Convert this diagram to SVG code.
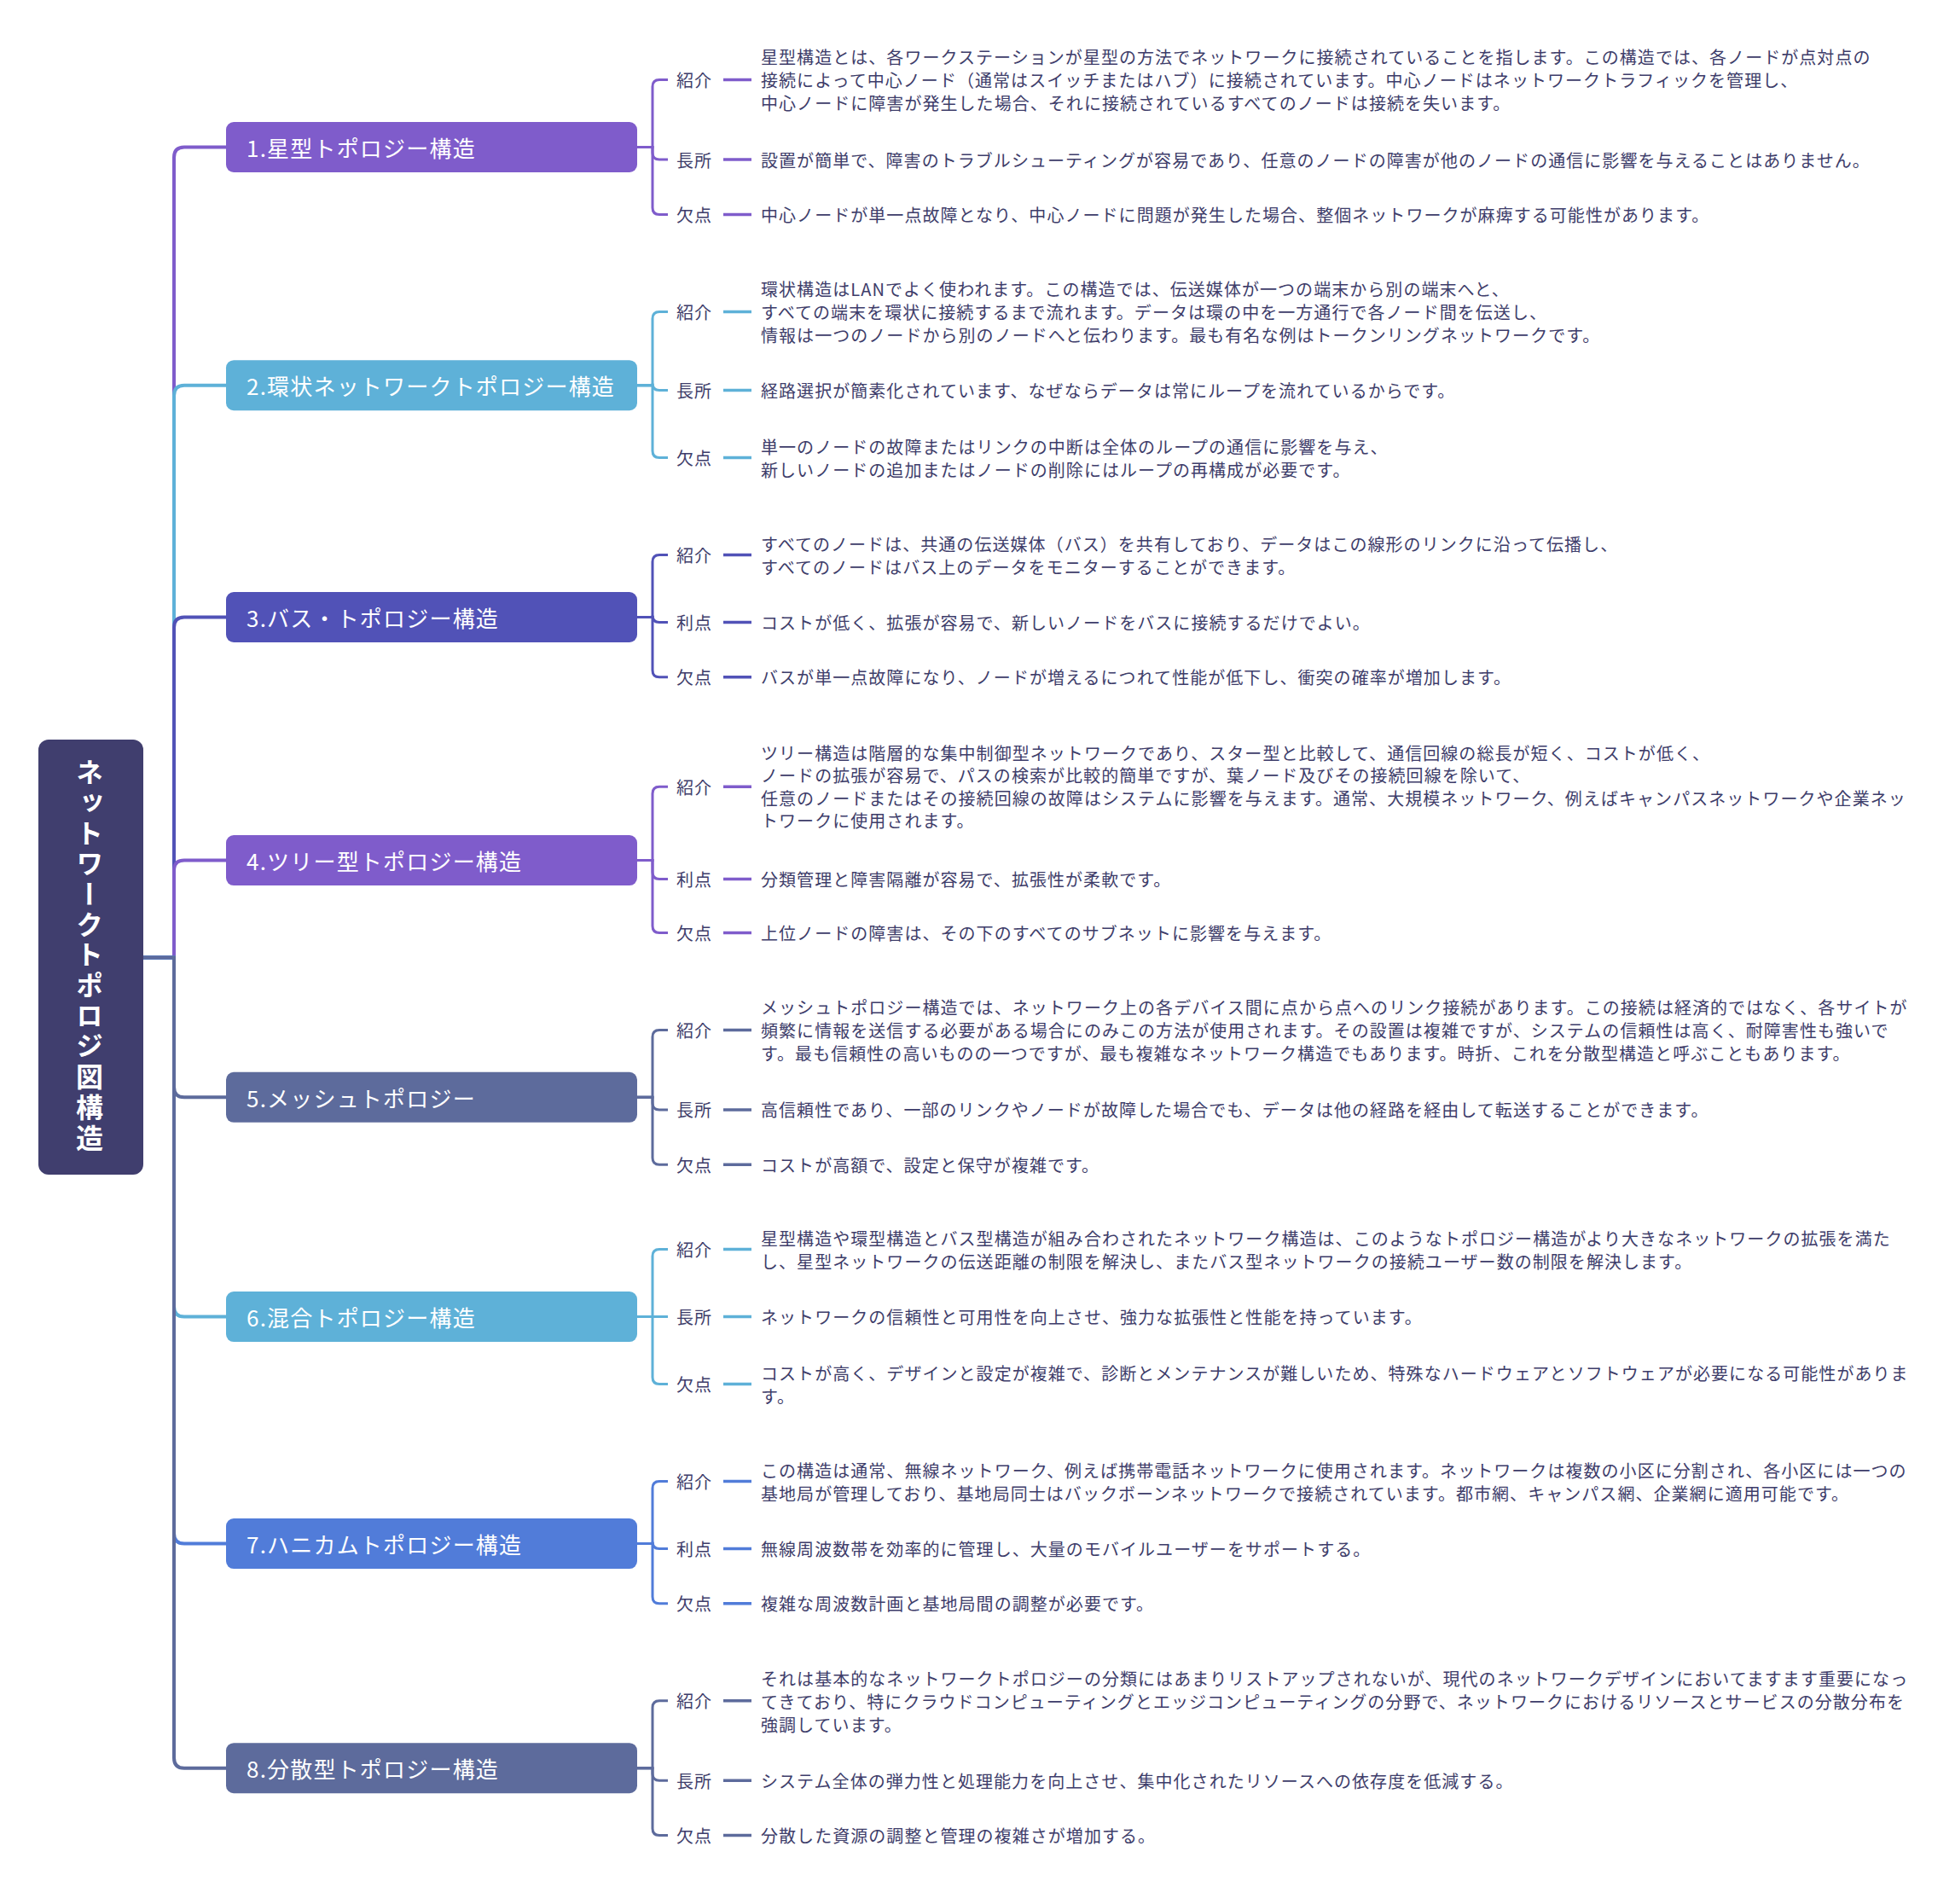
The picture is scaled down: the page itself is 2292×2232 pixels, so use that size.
<svg xmlns="http://www.w3.org/2000/svg" width="2292" height="2232" viewBox="0 0 2292 2232">
<style>
text{font-family:"Noto Sans CJK JP","Noto Sans",sans-serif;}
.root-t{font-size:32px;font-weight:bold;fill:#fff;letter-spacing:3.7px;}
.br-t{font-size:26px;fill:#fff;letter-spacing:1.2px;dominant-baseline:central;}
.lbl{font-size:20px;fill:#3E3D6A;letter-spacing:1px;dominant-baseline:central;}
.desc{font-size:20px;fill:#3E3D6A;letter-spacing:1.05px;dominant-baseline:central;}
.trunk{fill:none;stroke-width:4;}
.sub{fill:none;stroke-width:3;}
.dash{stroke-width:3.5;}
.c1{stroke:#7F5CCB}.c2{stroke:#5EB1D8}.c3{stroke:#5152B7}.c4{stroke:#7F5CCB}
.c5{stroke:#5D6B9C}.c6{stroke:#5EB1D8}.c7{stroke:#517CD9}.c8{stroke:#5D6B9C}
</style>
<rect width="2292" height="2232" fill="#fff"/>
<g id="connectors">
<path class="trunk c1" d="M168 1122.5H204V184.5Q204 172.5 216 172.5H265"/>
<path class="trunk c2" d="M168 1122.5H204V463.7Q204 451.7 216 451.7H265"/>
<path class="trunk c3" d="M168 1122.5H204V735.5Q204 723.5 216 723.5H265"/>
<path class="trunk c4" d="M168 1122.5H204V1020.6Q204 1008.6 216 1008.6H265"/>
<path class="trunk c5" d="M168 1122.5H204V1274.3Q204 1286.3 216 1286.3H265"/>
<path class="trunk c6" d="M168 1122.5H204V1531.6Q204 1543.6 216 1543.6H265"/>
<path class="trunk c7" d="M168 1122.5H204V1797.6Q204 1809.6 216 1809.6H265"/>
<path class="trunk c8" d="M168 1122.5H204V2060.7Q204 2072.7 216 2072.7H265"/>
<!-- node 1 children -->
<path class="sub c1" d="M747 172.5H765V101.5Q765 93.5 773 93.5H783"/>
<path class="sub c1" d="M747 172.5H765V179.1Q765 187.1 773 187.1H783"/>
<path class="sub c1" d="M747 172.5H765V243.4Q765 251.4 773 251.4H783"/>
<line class="dash c1" x1="848" y1="93.5" x2="881" y2="93.5"/>
<line class="dash c1" x1="848" y1="187.1" x2="881" y2="187.1"/>
<line class="dash c1" x1="848" y1="251.4" x2="881" y2="251.4"/>
<!-- node 2 children -->
<path class="sub c2" d="M747 451.7H765V373.4Q765 365.4 773 365.4H783"/>
<path class="sub c2" d="M747 451.7H765V449.5Q765 457.5 773 457.5H783"/>
<path class="sub c2" d="M747 451.7H765V528.4Q765 536.4 773 536.4H783"/>
<line class="dash c2" x1="848" y1="365.4" x2="881" y2="365.4"/>
<line class="dash c2" x1="848" y1="457.5" x2="881" y2="457.5"/>
<line class="dash c2" x1="848" y1="536.4" x2="881" y2="536.4"/>
<!-- node 3 children -->
<path class="sub c3" d="M747 723.5H765V658.5Q765 650.5 773 650.5H783"/>
<path class="sub c3" d="M747 723.5H765V721.4Q765 729.4 773 729.4H783"/>
<path class="sub c3" d="M747 723.5H765V785.7Q765 793.7 773 793.7H783"/>
<line class="dash c3" x1="848" y1="650.5" x2="881" y2="650.5"/>
<line class="dash c3" x1="848" y1="729.4" x2="881" y2="729.4"/>
<line class="dash c3" x1="848" y1="793.7" x2="881" y2="793.7"/>
<!-- node 4 children -->
<path class="sub c4" d="M747 1008.6H765V930.3Q765 922.3 773 922.3H783"/>
<path class="sub c4" d="M747 1008.6H765V1022.5Q765 1030.5 773 1030.5H783"/>
<path class="sub c4" d="M747 1008.6H765V1085.4Q765 1093.4 773 1093.4H783"/>
<line class="dash c4" x1="848" y1="922.3" x2="881" y2="922.3"/>
<line class="dash c4" x1="848" y1="1030.5" x2="881" y2="1030.5"/>
<line class="dash c4" x1="848" y1="1093.4" x2="881" y2="1093.4"/>
<!-- node 5 children -->
<path class="sub c5" d="M747 1286.3H765V1215.4Q765 1207.4 773 1207.4H783"/>
<path class="sub c5" d="M747 1286.3H765V1292.9Q765 1300.9 773 1300.9H783"/>
<path class="sub c5" d="M747 1286.3H765V1357.2Q765 1365.2 773 1365.2H783"/>
<line class="dash c5" x1="848" y1="1207.4" x2="881" y2="1207.4"/>
<line class="dash c5" x1="848" y1="1300.9" x2="881" y2="1300.9"/>
<line class="dash c5" x1="848" y1="1365.2" x2="881" y2="1365.2"/>
<!-- node 6 children -->
<path class="sub c6" d="M747 1543.6H765V1472.6Q765 1464.6 773 1464.6H783"/>
<path class="sub c6" d="M747 1543.6H783"/>
<path class="sub c6" d="M747 1543.6H765V1614.5Q765 1622.5 773 1622.5H783"/>
<line class="dash c6" x1="848" y1="1464.6" x2="881" y2="1464.6"/>
<line class="dash c6" x1="848" y1="1543.6" x2="881" y2="1543.6"/>
<line class="dash c6" x1="848" y1="1622.5" x2="881" y2="1622.5"/>
<!-- node 7 children -->
<path class="sub c7" d="M747 1809.6H765V1744.5Q765 1736.5 773 1736.5H783"/>
<path class="sub c7" d="M747 1809.6H765V1807.4Q765 1815.4 773 1815.4H783"/>
<path class="sub c7" d="M747 1809.6H765V1871.7Q765 1879.7 773 1879.7H783"/>
<line class="dash c7" x1="848" y1="1736.5" x2="881" y2="1736.5"/>
<line class="dash c7" x1="848" y1="1815.4" x2="881" y2="1815.4"/>
<line class="dash c7" x1="848" y1="1879.7" x2="881" y2="1879.7"/>
<!-- node 8 children -->
<path class="sub c8" d="M747 2072.7H765V2001.8Q765 1993.8 773 1993.8H783"/>
<path class="sub c8" d="M747 2072.7H765V2079.3Q765 2087.3 773 2087.3H783"/>
<path class="sub c8" d="M747 2072.7H765V2143.6Q765 2151.6 773 2151.6H783"/>
<line class="dash c8" x1="848" y1="1993.8" x2="881" y2="1993.8"/>
<line class="dash c8" x1="848" y1="2087.3" x2="881" y2="2087.3"/>
<line class="dash c8" x1="848" y1="2151.6" x2="881" y2="2151.6"/>
</g>
<g id="root">
<rect x="45" y="867" width="123" height="510" rx="12" fill="#403E6E"/>
<text class="root-t" x="105" y="889" writing-mode="vertical-rl" style="text-orientation:upright">ネットワークトポロジ図構造</text>
</g>
<g id="n1">
<rect x="265" y="143" width="482" height="59" rx="9" fill="#7F5CCB"/>
<text class="br-t" x="289" y="172.5">1.星型トポロジー構造</text>
</g>
<g id="n1-children">
<text class="lbl" x="793" y="93.5">紹介</text>
<text class="desc"><tspan x="892" y="66">星型構造とは、各ワークステーションが星型の方法でネットワークに接続されていることを指します。この構造では、各ノードが点対点の</tspan><tspan x="892" y="93">接続によって中心ノード（通常はスイッチまたはハブ）に接続されています。中心ノードはネットワークトラフィックを管理し、</tspan><tspan x="892" y="120">中心ノードに障害が発生した場合、それに接続されているすべてのノードは接続を失います。</tspan></text>
<text class="lbl" x="793" y="187.1">長所</text>
<text class="desc" x="892" y="187.1">設置が簡単で、障害のトラブルシューティングが容易であり、任意のノードの障害が他のノードの通信に影響を与えることはありません。</text>
<text class="lbl" x="793" y="251.4">欠点</text>
<text class="desc" x="892" y="251.4">中心ノードが単一点故障となり、中心ノードに問題が発生した場合、整個ネットワークが麻痺する可能性があります。</text>
</g>
<g id="n2">
<rect x="265" y="422.2" width="482" height="59" rx="9" fill="#5EB1D8"/>
<text class="br-t" x="289" y="451.7">2.環状ネットワークトポロジー構造</text>
</g>
<g id="n2-children">
<text class="lbl" x="793" y="365.4">紹介</text>
<text class="desc"><tspan x="892" y="338">環状構造はLANでよく使われます。この構造では、伝送媒体が一つの端末から別の端末へと、</tspan><tspan x="892" y="365">すべての端末を環状に接続するまで流れます。データは環の中を一方通行で各ノード間を伝送し、</tspan><tspan x="892" y="392">情報は一つのノードから別のノードへと伝わります。最も有名な例はトークンリングネットワークです。</tspan></text>
<text class="lbl" x="793" y="457.5">長所</text>
<text class="desc" x="892" y="457.5">経路選択が簡素化されています、なぜならデータは常にループを流れているからです。</text>
<text class="lbl" x="793" y="536.4">欠点</text>
<text class="desc"><tspan x="892" y="523">単一のノードの故障またはリンクの中断は全体のループの通信に影響を与え、</tspan><tspan x="892" y="550">新しいノードの追加またはノードの削除にはループの再構成が必要です。</tspan></text>
</g>
<g id="n3">
<rect x="265" y="694" width="482" height="59" rx="9" fill="#5152B7"/>
<text class="br-t" x="289" y="723.5">3.バス・トポロジー構造</text>
</g>
<g id="n3-children">
<text class="lbl" x="793" y="650.5">紹介</text>
<text class="desc"><tspan x="892" y="637">すべてのノードは、共通の伝送媒体（バス）を共有しており、データはこの線形のリンクに沿って伝播し、</tspan><tspan x="892" y="664">すべてのノードはバス上のデータをモニターすることができます。</tspan></text>
<text class="lbl" x="793" y="729.4">利点</text>
<text class="desc" x="892" y="729.4">コストが低く、拡張が容易で、新しいノードをバスに接続するだけでよい。</text>
<text class="lbl" x="793" y="793.7">欠点</text>
<text class="desc" x="892" y="793.7">バスが単一点故障になり、ノードが増えるにつれて性能が低下し、衝突の確率が増加します。</text>
</g>
<g id="n4">
<rect x="265" y="979.1" width="482" height="59" rx="9" fill="#7F5CCB"/>
<text class="br-t" x="289" y="1008.6">4.ツリー型トポロジー構造</text>
</g>
<g id="n4-children">
<text class="lbl" x="793" y="922.3">紹介</text>
<text class="desc"><tspan x="892" y="881.6">ツリー構造は階層的な集中制御型ネットワークであり、スター型と比較して、通信回線の総長が短く、コストが低く、</tspan><tspan x="892" y="908.1">ノードの拡張が容易で、パスの検索が比較的簡単ですが、葉ノード及びその接続回線を除いて、</tspan><tspan x="892" y="934.6">任意のノードまたはその接続回線の故障はシステムに影響を与えます。通常、大規模ネットワーク、例えばキャンパスネットワークや企業ネッ</tspan><tspan x="892" y="961.1">トワークに使用されます。</tspan></text>
<text class="lbl" x="793" y="1030.5">利点</text>
<text class="desc" x="892" y="1030.5">分類管理と障害隔離が容易で、拡張性が柔軟です。</text>
<text class="lbl" x="793" y="1093.4">欠点</text>
<text class="desc" x="892" y="1093.4">上位ノードの障害は、その下のすべてのサブネットに影響を与えます。</text>
</g>
<g id="n5">
<rect x="265" y="1256.8" width="482" height="59" rx="9" fill="#5D6B9C"/>
<text class="br-t" x="289" y="1286.3">5.メッシュトポロジー</text>
</g>
<g id="n5-children">
<text class="lbl" x="793" y="1207.4">紹介</text>
<text class="desc"><tspan x="892" y="1180">メッシュトポロジー構造では、ネットワーク上の各デバイス間に点から点へのリンク接続があります。この接続は経済的ではなく、各サイトが</tspan><tspan x="892" y="1207">頻繁に情報を送信する必要がある場合にのみこの方法が使用されます。その設置は複雑ですが、システムの信頼性は高く、耐障害性も強いで</tspan><tspan x="892" y="1234">す。最も信頼性の高いものの一つですが、最も複雑なネットワーク構造でもあります。時折、これを分散型構造と呼ぶこともあります。</tspan></text>
<text class="lbl" x="793" y="1300.9">長所</text>
<text class="desc" x="892" y="1300.9">高信頼性であり、一部のリンクやノードが故障した場合でも、データは他の経路を経由して転送することができます。</text>
<text class="lbl" x="793" y="1365.2">欠点</text>
<text class="desc" x="892" y="1365.2">コストが高額で、設定と保守が複雑です。</text>
</g>
<g id="n6">
<rect x="265" y="1514.1" width="482" height="59" rx="9" fill="#5EB1D8"/>
<text class="br-t" x="289" y="1543.6">6.混合トポロジー構造</text>
</g>
<g id="n6-children">
<text class="lbl" x="793" y="1464.6">紹介</text>
<text class="desc"><tspan x="892" y="1451">星型構造や環型構造とバス型構造が組み合わされたネットワーク構造は、このようなトポロジー構造がより大きなネットワークの拡張を満た</tspan><tspan x="892" y="1478">し、星型ネットワークの伝送距離の制限を解決し、またバス型ネットワークの接続ユーザー数の制限を解決します。</tspan></text>
<text class="lbl" x="793" y="1543.6">長所</text>
<text class="desc" x="892" y="1543.6">ネットワークの信頼性と可用性を向上させ、強力な拡張性と性能を持っています。</text>
<text class="lbl" x="793" y="1622.5">欠点</text>
<text class="desc"><tspan x="892" y="1609">コストが高く、デザインと設定が複雑で、診断とメンテナンスが難しいため、特殊なハードウェアとソフトウェアが必要になる可能性がありま</tspan><tspan x="892" y="1636">す。</tspan></text>
</g>
<g id="n7">
<rect x="265" y="1780.1" width="482" height="59" rx="9" fill="#517CD9"/>
<text class="br-t" x="289" y="1809.6">7.ハニカムトポロジー構造</text>
</g>
<g id="n7-children">
<text class="lbl" x="793" y="1736.5">紹介</text>
<text class="desc"><tspan x="892" y="1723">この構造は通常、無線ネットワーク、例えば携帯電話ネットワークに使用されます。ネットワークは複数の小区に分割され、各小区には一つの</tspan><tspan x="892" y="1750">基地局が管理しており、基地局同士はバックボーンネットワークで接続されています。都市網、キャンパス網、企業網に適用可能です。</tspan></text>
<text class="lbl" x="793" y="1815.4">利点</text>
<text class="desc" x="892" y="1815.4">無線周波数帯を効率的に管理し、大量のモバイルユーザーをサポートする。</text>
<text class="lbl" x="793" y="1879.7">欠点</text>
<text class="desc" x="892" y="1879.7">複雑な周波数計画と基地局間の調整が必要です。</text>
</g>
<g id="n8">
<rect x="265" y="2043.2" width="482" height="59" rx="9" fill="#5D6B9C"/>
<text class="br-t" x="289" y="2072.7">8.分散型トポロジー構造</text>
</g>
<g id="n8-children">
<text class="lbl" x="793" y="1993.8">紹介</text>
<text class="desc"><tspan x="892" y="1966.5">それは基本的なネットワークトポロジーの分類にはあまりリストアップされないが、現代のネットワークデザインにおいてますます重要になっ</tspan><tspan x="892" y="1993.5">てきており、特にクラウドコンピューティングとエッジコンピューティングの分野で、ネットワークにおけるリソースとサービスの分散分布を</tspan><tspan x="892" y="2020.5">強調しています。</tspan></text>
<text class="lbl" x="793" y="2087.3">長所</text>
<text class="desc" x="892" y="2087.3">システム全体の弾力性と処理能力を向上させ、集中化されたリソースへの依存度を低減する。</text>
<text class="lbl" x="793" y="2151.6">欠点</text>
<text class="desc" x="892" y="2151.6">分散した資源の調整と管理の複雑さが増加する。</text>
</g>
</svg>
